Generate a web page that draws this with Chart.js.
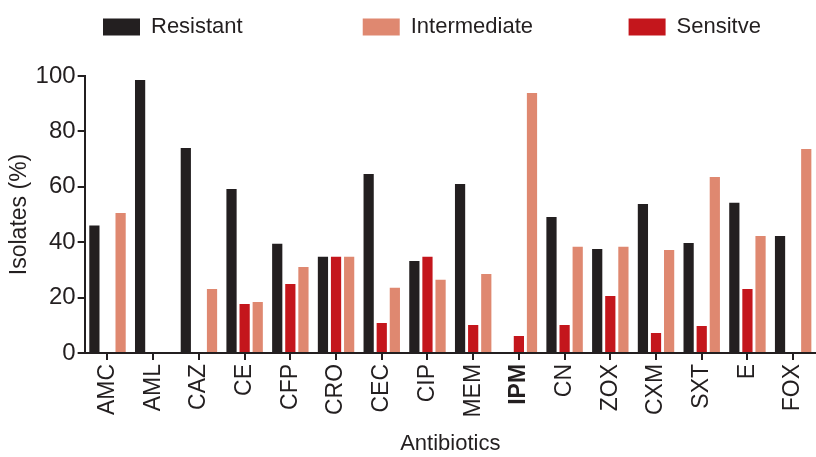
<!DOCTYPE html>
<html>
<head>
<meta charset="utf-8">
<script src="https://cdn.jsdelivr.net/npm/chart.js@4.4.0/dist/chart.umd.min.js"></script>
<style>
  html, body { margin: 0; padding: 0; background: #fff; }
</style>
</head>
<body>
<canvas id="amrChart" width="816" height="457"></canvas>
<script>
const antibiotics = ["AMC", "AML", "CAZ", "CE", "CFP", "CRO", "CEC", "CIP", "MEM", "IPM", "CN", "ZOX", "CXM", "SXT", "E", "FOX"];
const resistant    = [46, 98.6, 74, 59.2, 39.4, 34.7, 64.6, 33.2, 61, 0, 49.1, 37.5, 53.8, 39.7, 54.2, 42.2];
const sensitive    = [0, 0, 0, 17.7, 24.9, 34.7, 10.8, 34.7, 10.1, 6.1, 10.1, 20.6, 7.2, 9.7, 23.1, 0];
const intermediate = [50.5, 0, 23.1, 18.4, 31, 34.7, 23.5, 26.4, 28.5, 93.9, 38.3, 38.3, 37.2, 63.5, 42.2, 73.6];
const yTicks = [0, 20, 40, 60, 80, 100];

const ink = "#231f20";
const font = "'Liberation Sans', Arial, Helvetica, sans-serif";

// legend order differs from bar order
const legendOrder = { "Resistant": 0, "Intermediate": 1, "Sensitve": 2 };
const legendGap = { "Resistant": 18, "Intermediate": 14, "Sensitve": 0 };

const legendTweak = {
  id: "legendTweak",
  beforeInit(chart) {
    const lg = chart.legend;
    const fit = lg.fit;
    lg.fit = function () {
      fit.call(this);
      this.height += 28;
    };
  },
  afterLayout(chart) {
    const lg = chart.legend;
    const w = lg.right - lg.left;
    lg.left = 93;
    lg.right = 93 + w;
  }
};

const ctx = document.getElementById("amrChart").getContext("2d");
new Chart(ctx, {
  type: "bar",
  data: {
    labels: antibiotics,
    datasets: [
      { label: "Resistant", data: resistant, backgroundColor: ink },
      { label: "Sensitve", data: sensitive, backgroundColor: "#c4161c" },
      { label: "Intermediate", data: intermediate, backgroundColor: "#df8870" }
    ]
  },
  options: {
    responsive: false,
    devicePixelRatio: 1,
    animation: false,
    layout: { padding: { left: 6, right: -3, top: 6, bottom: 0 } },
    datasets: { bar: { categoryPercentage: 0.86, barPercentage: 0.78 } },
    plugins: {
      tooltip: { enabled: false },
      legend: {
        position: "top",
        align: "start",
        labels: {
          color: ink,
          font: { family: font, size: 22 },
          boxWidth: 37,
          boxHeight: 17,
          padding: 10,
          sort: (a, b) => legendOrder[a.text.trim()] - legendOrder[b.text.trim()],
          generateLabels(chart) {
            const items = Chart.defaults.plugins.legend.labels.generateLabels(chart);
            items.forEach(it => {
              it.lineWidth = 0;
              it.text = it.text + "\u00a0".repeat(legendGap[it.text]);
            });
            return items;
          }
        }
      }
    },
    scales: {
      x: {
        afterFit(scale) { scale.paddingLeft = 0; scale.paddingRight = 0; },
        grid: {
          display: true, drawOnChartArea: false, drawTicks: true,
          offset: false, tickLength: 7, color: ink, lineWidth: 2
        },
        border: { display: true, color: ink, width: 2 },
        ticks: {
          color: ink,
          minRotation: 90, maxRotation: 90,
          autoSkip: false,
          padding: 4,
          font: (c) => ({ family: font, size: 23, weight: c.tick && c.tick.label === "IPM" ? "bold" : "normal" })
        },
        title: {
          display: true, text: "Antibiotics", color: ink,
          font: { family: font, size: 22 }, padding: { top: 9, bottom: 0 }
        }
      },
      y: {
        min: 0, max: 100,
        afterBuildTicks(axis) { axis.ticks = yTicks.map(v => ({ value: v })); },
        grid: {
          display: true, drawOnChartArea: false, drawTicks: true,
          tickLength: 7, color: ink, lineWidth: 2
        },
        border: { display: true, color: ink, width: 2 },
        ticks: { color: ink, padding: 2, font: { family: font, size: 24 } },
        title: {
          display: true, text: "Isolates (%)", color: ink,
          font: { family: font, size: 23 }, padding: { top: 0, bottom: 0 }
        }
      }
    }
  },
  plugins: [legendTweak]
});
</script>
</body>
</html>
